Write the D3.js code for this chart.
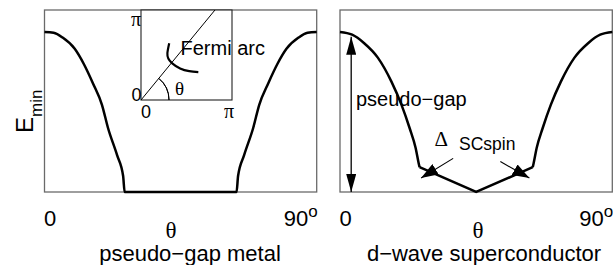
<!DOCTYPE html>
<html>
<head>
<meta charset="utf-8">
<script src="https://cdn.jsdelivr.net/npm/d3@7/dist/d3.min.js"></script>
<style>
  body { margin: 0; background: #fff; }
  text { font-family: "Liberation Sans", Arial, Helvetica, sans-serif; fill: #000; }
  .sym { font-family: "Liberation Serif", "Times New Roman", serif; }
</style>
</head>
<body>
<div id="chart"></div>
<script>
// E_min vs theta (degrees) for the pseudo-gap metal (left panel)
const thetaPG = [0, 3, 6, 10, 13, 16, 19, 21, 24, 26, 26.5, 63.5, 64, 66, 69, 71, 74, 77, 80, 84, 87, 90];
const emPG    = [1, 0.995, 0.965, 0.895, 0.8, 0.68, 0.545, 0.4, 0.23, 0.1, 0, 0, 0.1, 0.23, 0.4, 0.545, 0.68, 0.8, 0.895, 0.965, 0.995, 1];

// E_min vs theta for the d-wave superconductor (right panel)
const thetaSC = [0, 4, 8, 12.5, 17, 20.3, 23, 25, 26, 26.3, 45, 63.7, 64, 65, 67, 69.7, 73, 77.5, 82, 86, 90];
const emSC    = [1, 0.983, 0.93, 0.84, 0.69, 0.546, 0.4, 0.275, 0.18, 0.155, 0, 0.155, 0.18, 0.275, 0.4, 0.546, 0.69, 0.84, 0.93, 0.983, 1];
const scKinks = [26.3, 63.7];

// inset (k-space, units of pi)
const diagX = [0, 0.813];
const diagY = [0, 1];
const fermiX = [0.31, 0.29, 0.30, 0.34, 0.43, 0.53, 0.63];
const fermiY = [0.63, 0.52, 0.46, 0.41, 0.35, 0.32, 0.31];

// annotations on the right panel [theta, E]
const gapArrow = [[3.7, 0.97], [3.7, 0.0]];
const scArrows = [
  [[37.4, 0.21], [26.8, 0.087]],
  [[53.0, 0.19], [62.6, 0.087]]
];

const tickLabels = ["0", "90"];
const titles = ["pseudo\u2212gap metal", "d\u2212wave superconductor"];

const width = 613, height = 265;
const frameTop = 10, frameBottom = 192;

const svg = d3.select("#chart").append("svg")
    .attr("width", width)
    .attr("height", height);

const defs = svg.append("defs");
function marker(id, len, half) {
  defs.append("marker")
      .attr("id", id)
      .attr("markerUnits", "userSpaceOnUse")
      .attr("viewBox", `0 ${-half} ${len} ${2 * half}`)
      .attr("refX", len)
      .attr("refY", 0)
      .attr("markerWidth", len)
      .attr("markerHeight", 2 * half)
      .attr("orient", "auto-start-reverse")
    .append("path")
      .attr("d", `M0,${-half}L${len},0L0,${half}Z`)
      .attr("fill", "#000");
}
marker("head", 18, 5);
marker("headWide", 17, 6);

const y = d3.scaleLinear().domain([0, 1]).range([frameBottom, 32]);

const panels = [
  { x0: 44.5, x1: 316.7, thetaX: 171, titleX: 190 },
  { x0: 340, x1: 612.3, thetaX: 478, titleX: 484 }
];

panels.forEach((p, i) => {
  p.x = d3.scaleLinear().domain([0, 90]).range([p.x0, p.x1]);

  // frame
  svg.append("rect")
      .attr("x", p.x0)
      .attr("y", frameTop)
      .attr("width", p.x1 - p.x0)
      .attr("height", frameBottom - frameTop)
      .attr("fill", "none")
      .attr("stroke", "#6a6a6a")
      .attr("stroke-width", 1.3);

  // tick labels
  svg.append("text")
      .attr("x", p.x(0) - 0.5)
      .attr("y", 226)
      .attr("font-size", 22)
      .text(tickLabels[0]);
  const t90 = svg.append("text")
      .attr("x", p.x(90) + 1)
      .attr("y", 226)
      .attr("text-anchor", "end")
      .attr("font-size", 22);
  t90.append("tspan").text(tickLabels[1]);
  t90.append("tspan").attr("dy", -9).attr("font-size", 17).text("o");

  svg.append("text")
      .attr("class", "sym")
      .attr("x", p.thetaX)
      .attr("y", 238)
      .attr("text-anchor", "middle")
      .attr("font-size", 23)
      .text("\u03b8");

  svg.append("text")
      .attr("x", p.titleX)
      .attr("y", 261)
      .attr("text-anchor", "middle")
      .attr("font-size", 22)
      .text(titles[i]);
});

// left panel curve
const pL = panels[0];
const lineL = d3.line()
    .x(d => pL.x(d[0]))
    .y(d => y(d[1]))
    .curve(d3.curveMonotoneX);
svg.append("path")
    .datum(d3.zip(thetaPG, emPG))
    .attr("d", lineL)
    .attr("fill", "none")
    .attr("stroke", "#000")
    .attr("stroke-width", 2.5);

// right panel curve: smooth sides, straight V between kinks
const pR = panels[1];
const ptsSC = d3.zip(thetaSC, emSC);
const smoothR = d3.line().x(d => pR.x(d[0])).y(d => y(d[1])).curve(d3.curveMonotoneX);
const straightR = d3.line().x(d => pR.x(d[0])).y(d => y(d[1]));
[ptsSC.filter(d => d[0] <= scKinks[0]), ptsSC.filter(d => d[0] >= scKinks[1])].forEach(seg => {
  svg.append("path")
      .attr("d", smoothR(seg))
      .attr("fill", "none")
      .attr("stroke", "#000")
      .attr("stroke-width", 2.5);
});
svg.append("path")
    .attr("d", straightR(ptsSC.filter(d => d[0] >= scKinks[0] && d[0] <= scKinks[1])))
    .attr("fill", "none")
    .attr("stroke", "#000")
    .attr("stroke-width", 2.5)
    .attr("stroke-linejoin", "miter");

// pseudo-gap double arrow
svg.append("line")
    .attr("x1", pR.x(gapArrow[0][0]))
    .attr("y1", y(gapArrow[0][1]))
    .attr("x2", pR.x(gapArrow[1][0]))
    .attr("y2", y(gapArrow[1][1]))
    .attr("stroke", "#000")
    .attr("stroke-width", 1.3)
    .attr("marker-start", "url(#head)")
    .attr("marker-end", "url(#head)");

scArrows.forEach(a => {
  svg.append("line")
      .attr("x1", pR.x(a[0][0]))
      .attr("y1", y(a[0][1]))
      .attr("x2", pR.x(a[1][0]))
      .attr("y2", y(a[1][1]))
      .attr("stroke", "#000")
      .attr("stroke-width", 1.1)
      .attr("marker-end", "url(#headWide)");
});

svg.append("text")
    .attr("x", 356)
    .attr("y", 106)
    .attr("font-size", 20)
    .text("pseudo\u2212gap");
svg.append("text")
    .attr("class", "sym")
    .attr("x", 434.5)
    .attr("y", 146)
    .attr("font-size", 21)
    .text("\u0394");
svg.append("text")
    .attr("x", 459)
    .attr("y", 150)
    .attr("font-size", 17.5)
    .text("SCspin");

// y label
const yl = svg.append("text")
    .attr("transform", "translate(33,133) rotate(-90)")
    .attr("font-size", 24);
yl.append("tspan").text("E");
yl.append("tspan").attr("dy", 9).attr("font-size", 17).text("min");

// inset
const ix = d3.scaleLinear().domain([0, 1]).range([141, 232]);
const iy = d3.scaleLinear().domain([0, 1]).range([100, 10]);
const inset = svg.append("g");
inset.append("rect")
    .attr("x", ix(0))
    .attr("y", iy(1))
    .attr("width", ix(1) - ix(0))
    .attr("height", iy(0) - iy(1))
    .attr("fill", "#fff")
    .attr("stroke", "#222")
    .attr("stroke-width", 1.1);
inset.append("line")
    .attr("x1", ix(diagX[0])).attr("y1", iy(diagY[0]))
    .attr("x2", ix(diagX[1])).attr("y2", iy(diagY[1]))
    .attr("stroke", "#000")
    .attr("stroke-width", 1);
// angle arc
const ang = Math.atan2(iy(0) - iy(diagY[1]), ix(diagX[1]) - ix(0));
inset.append("path")
    .attr("transform", `translate(${ix(0)},${iy(0)})`)
    .attr("d", d3.arc()({ innerRadius: 28, outerRadius: 28, startAngle: Math.PI / 2 - ang, endAngle: Math.PI / 2 }))
    .attr("fill", "none")
    .attr("stroke", "#000")
    .attr("stroke-width", 1);
inset.append("path")
    .datum(d3.zip(fermiX, fermiY))
    .attr("d", d3.line().x(d => ix(d[0])).y(d => iy(d[1])).curve(d3.curveNatural))
    .attr("fill", "none")
    .attr("stroke", "#000")
    .attr("stroke-width", 2.2);
inset.append("text")
    .attr("x", 180.5)
    .attr("y", 55)
    .attr("font-size", 20)
    .text("Fermi arc");
inset.append("text")
    .attr("class", "sym")
    .attr("x", 175)
    .attr("y", 95)
    .attr("font-size", 19)
    .text("\u03b8");
inset.append("text")
    .attr("class", "sym")
    .attr("x", ix(0))
    .attr("y", 26)
    .attr("text-anchor", "end")
    .attr("font-size", 20)
    .text("\u03c0");
inset.append("text")
    .attr("x", ix(0) + 0.5)
    .attr("y", 100.5)
    .attr("text-anchor", "end")
    .attr("font-size", 18)
    .text("0");
inset.append("text")
    .attr("x", ix(0))
    .attr("y", 118)
    .attr("font-size", 18)
    .text("0");
inset.append("text")
    .attr("class", "sym")
    .attr("x", ix(1) - 3)
    .attr("y", 118)
    .attr("text-anchor", "middle")
    .attr("font-size", 20)
    .text("\u03c0");
</script>
</body>
</html>
